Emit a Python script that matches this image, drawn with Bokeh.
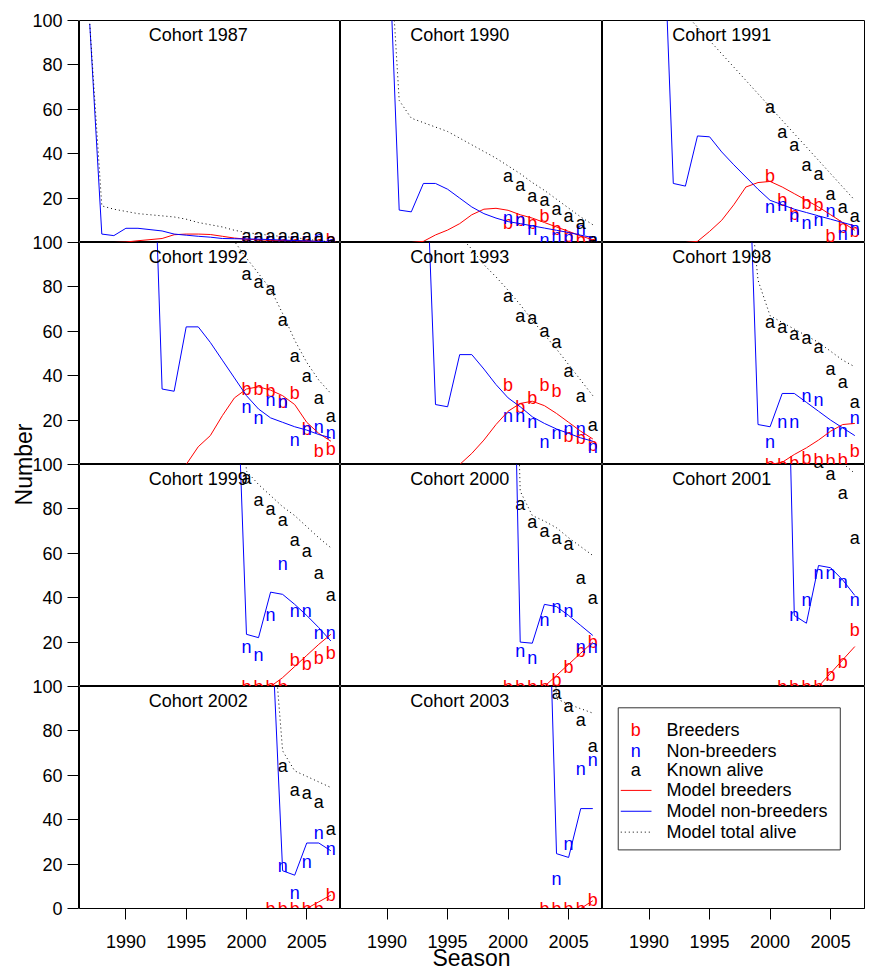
import math
from bokeh.plotting import figure
from bokeh.layouts import gridplot, row
from bokeh.models import Range1d, FixedTicker, Label, BoxAnnotation
from bokeh.core.properties import value
from bokeh.embed import file_html
from bokeh.resources import INLINE

FONT = "Liberation Sans"

# ---------------- data ----------------
season_ticks = [1990, 1995, 2000, 2005]
number_ticks = [0, 20, 40, 60, 80, 100]
obs_years = [2000, 2001, 2002, 2003, 2004, 2005, 2006, 2007]
cohorts = [1987, 1990, 1991, 1992, 1993, 1998, 1999, 2000, 2001, 2002, 2003]

# model series: one value per season from the cohort year to 2007
mb_1987 = [0, 0, 0, 0.2, 0.8, 1.3, 1.8, 3.5, 3.8, 3.8, 3.6, 2.8, 2.0, 1.5, 1.2, 1.0, 0.9, 0.8, 0.6, 0.5, 0.3]
mn_1987 = [98.5, 3.8, 3.1, 6.4, 6.4, 5.8, 5.2, 3.8, 3.3, 2.8, 2.4, 1.8, 1.7, 1.6, 1.5, 1.3, 1.1, 0.9, 0.7, 0.5, 0.3]
mt_1987 = [98.5, 16.5, 15, 14, 13, 12.5, 12, 11.5, 10.5, 9, 8, 7, 5.5, 4.5, 3.8, 3.2, 2.7, 2.2, 1.5, 0.8, 0.3]

mb_1990 = [0, 0, 0, 0.5, 3.4, 5.6, 8.5, 12.5, 15, 15.4, 14.5, 12.5, 11, 9, 7, 5, 3, 1.2]
mn_1990 = [157, 14.6, 13.8, 26.6, 26.6, 24, 20, 16, 13, 11, 9.4, 8.5, 7.5, 6.5, 5.5, 4.5, 3.3, 2.2]
mt_1990 = [154, 64, 56, 54, 52, 50, 47, 44, 41, 38, 34.5, 31, 27, 23.5, 19.5, 15.5, 11.5, 8]

mb_1991 = [0, 0, 0, 0.5, 5, 10, 17, 25, 27, 27.5, 25, 22, 19, 16, 12.5, 9, 5.5]
mn_1991 = [173, 26.6, 25.4, 48, 47.6, 40.8, 35, 29.5, 24, 19, 17, 15, 13.5, 12, 10.5, 9, 7.5]
mt_1991 = [173, 110, 103, 97, 91, 85, 79, 73, 67, 61, 55, 49, 43, 37, 31, 25, 19]

mb_1992 = [0, 0, 0, 0, 8, 13, 22, 30, 34, 35, 33.5, 31, 27, 19, 14, 10.5]
mn_1992 = [200, 34, 33, 62, 62, 55, 47, 39, 31, 25, 21, 19, 17, 15.5, 13.5, 12]
mt_1992 = [200, 125, 120, 115, 111, 107, 103.5, 100.5, 93, 86, 79, 68, 56, 46, 38, 32]

mb_1993 = [0, 0, 0, 0, 5, 11, 18, 24, 27.5, 28.5, 26.5, 23, 19, 15, 11.5]
mn_1993 = [173, 27, 26, 49.5, 49.5, 43, 36, 30, 26, 21.5, 18.5, 16, 14, 12, 10.5]
mt_1993 = [173, 130, 115, 103, 97, 90, 84.5, 78.5, 72, 65, 58.5, 52, 45, 38, 31]

mb_1998 = [0, 0, 0, 1, 4.5, 7.5, 11, 15, 18, 18.5]
mn_1998 = [182, 18, 17, 32, 32, 28, 24, 20, 16.5, 13]
mt_1998 = [140, 83, 67, 64, 61, 58, 55, 51, 47, 44]

mb_1999 = [0, 0, 0, 0, 4, 9, 14, 19, 23.5]
mn_1999 = [176, 23.5, 22, 42.5, 41.5, 37, 32, 26.5, 20.5]
mt_1999 = [176, 97, 91, 86, 81, 77, 72, 67, 62.5]

mb_2000 = [0, 0, 0, 0, 5, 10, 15, 20]
mn_2000 = [287, 20, 19.5, 37, 36, 32, 27.5, 23]
mt_2000 = [287, 88, 77, 74.5, 71.5, 67, 63, 59]

mb_2001 = [0, 0, 0, 0, 6, 12, 18]
mn_2001 = [259, 32, 28.5, 54.5, 53.5, 48, 41]
mt_2001 = [259, 135, 120, 112, 106, 100.5, 96]

mb_2002 = [0, 0, 0, 0, 3, 6]
mn_2002 = [139, 17, 15, 29.5, 29.5, 26]
mt_2002 = [139, 71, 62, 59.5, 57, 54.5]

mb_2003 = [0, 0, 0, 0, 3.5]
mn_2003 = [213, 24.7, 23, 45, 45]
mt_2003 = [213, 94.5, 92, 90, 88]

# observed counts 2000-2007 (b = breeders, n = non-breeders, a = known alive)
ob_1987 = [0, 0, 0, 0, 0, 0, 0, 1]
on_1987 = [1, 1, 1, 1, 1, 1, 2, 0]
oa_1987 = [3, 3, 3, 3, 3, 3, 3, 1]

ob_1990 = [9, 10, 9, 12, 6, 3, 1, 0]
on_1990 = [11, 10, 6, 1, 3, 2, 6, 1]
oa_1990 = [30, 26, 21, 19, 15, 12, 9, 1]

ob_1991 = [30, 19, 13, 18, 17, 3, 7, 5]
on_1991 = [16, 17, 12, 9, 10, 14, 4, 6]
oa_1991 = [61, 50, 44, 35, 31, 22, 16, 12]

ob_1992 = [34, 34, 33, 28, 32, 16, 6, 7]
on_1992 = [26, 21, 29, 28, 11, 16, 17, 14]
oa_1992 = [86, 82, 79, 65, 49, 40, 30, 22]

ob_1993 = [36, 26, 30, 36, 33, 13, 12, 9]
on_1993 = [22, 22, 19, 10, 14, 16, 16, 8]
oa_1993 = [76, 67, 66, 60, 55, 42, 31, 18]

ob_1998 = [0, 0, 0.5, 3, 2, 1.5, 2, 6]
on_1998 = [10, 19, 19, 31, 29, 15, 15, 21]
oa_1998 = [64, 62, 59, 57, 53, 43, 37, 28]

ob_1999 = [0, 0, 0, 0, 12, 10, 13, 15]
on_1999 = [18, 14, 32, 55, 34, 34, 24, 24]
oa_1999 = [94, 84, 80, 75, 66, 61, 51, 41]

ob_2000 = [0, 0, 0, 0, 3, 9, 16, 20]
on_2000 = [None, 16, 13, 30, 36, 34, 18, 18]
oa_2000 = [None, 82, 74, 70, 67, 64, 49, 40]

ob_2001 = [None, 0, 0, 0, 0, 5, 11, 25.5]
on_2001 = [None, None, 32, 39, 51, 51, 47, 39]
oa_2001 = [None, None, None, None, 101, 95.5, 87, 67]

ob_2002 = [None, None, 0, 0, 0, 0, 0, 6]
on_2002 = [None, None, None, 19, 7, 21, 34, 27]
oa_2002 = [None, None, None, 64, 53.5, 52, 48, 36]

ob_2003 = [None, None, None, 0, 0, 0, 0, 4]
on_2003 = [None, None, None, None, 13.5, 29, 63, 67]
oa_2003 = [None, None, None, None, 97, 91, 85, 73]

model_breeders = [mb_1987, mb_1990, mb_1991, mb_1992, mb_1993, mb_1998, mb_1999, mb_2000, mb_2001, mb_2002, mb_2003]
model_nonbreeders = [mn_1987, mn_1990, mn_1991, mn_1992, mn_1993, mn_1998, mn_1999, mn_2000, mn_2001, mn_2002, mn_2003]
model_total = [mt_1987, mt_1990, mt_1991, mt_1992, mt_1993, mt_1998, mt_1999, mt_2000, mt_2001, mt_2002, mt_2003]
obs_breeders = [ob_1987, ob_1990, ob_1991, ob_1992, ob_1993, ob_1998, ob_1999, ob_2000, ob_2001, ob_2002, ob_2003]
obs_nonbreeders = [on_1987, on_1990, on_1991, on_1992, on_1993, on_1998, on_1999, on_2000, on_2001, on_2002, on_2003]
obs_alive = [oa_1987, oa_1990, oa_1991, oa_1992, oa_1993, oa_1998, oa_1999, oa_2000, oa_2001, oa_2002, oa_2003]

legend_symbols = ["b", "n", "a"]
legend_labels = ["Breeders", "Non-breeders", "Known alive",
                 "Model breeders", "Model non-breeders", "Model total alive"]

# ---------------- layout constants ----------------
X_RANGE = (1986.15, 2007.8)
COL_W = [261, 262, 262]
ROW_H = 222
TOP = 20
BOTTOM = 66
RIGHT = 8
AXIS_W = 78
TXT = "18px"


def nanify(v):
    return [float("nan") if x is None else x for x in v]


def panel(r, c):
    last_row = (r == 3)
    p = figure(frame_width=COL_W[c], frame_height=ROW_H,
               x_range=Range1d(*X_RANGE), y_range=Range1d(0, 100),
               x_axis_location="below" if last_row else None,
               y_axis_location=None,
               output_backend="svg", toolbar_location=None, tools="",
               min_border_left=0, min_border_right=RIGHT if c == 2 else 0,
               min_border_top=TOP if r == 0 else 0,
               min_border_bottom=BOTTOM if last_row else 0,
               outline_line_color="black", outline_line_width=1, outline_line_alpha=1,
               background_fill_color="white", border_fill_color="white")
    p.grid.visible = False
    if last_row:
        ax = p.xaxis[0]
        ax.ticker = FixedTicker(ticks=season_ticks)
        ax.major_tick_out = 11
        ax.major_tick_in = 0
        ax.minor_tick_out = 0
        ax.minor_tick_in = 0
        ax.major_label_standoff = 15
        ax.major_label_text_font = FONT
        ax.major_label_text_font_size = TXT
        ax.major_label_text_color = "black"
        ax.axis_line_color = "black"
        ax.major_tick_line_color = "black"
        if c == 1:
            ax.axis_label = "Season"
            ax.axis_label_text_font = FONT
            ax.axis_label_text_font_size = "23px"
            ax.axis_label_text_font_style = "normal"
            ax.axis_label_text_color = "black"
            ax.axis_label_standoff = -6
    return p


def letters(p, vals, ch, color):
    p.text(x=obs_years, y=nanify(vals), text=[ch] * len(obs_years),
           text_color=color, text_font=value(FONT), text_font_size=TXT,
           text_align="center", text_baseline="middle")


panels = []
for i in range(12):
    r, c = divmod(i, 3)
    p = panel(r, c)
    if i < len(cohorts):
        cy = cohorts[i]
        yrs = list(range(cy, 2008))
        letters(p, obs_breeders[i], "b", "red")
        letters(p, obs_nonbreeders[i], "n", "blue")
        letters(p, obs_alive[i], "a", "black")
        p.line(yrs, model_breeders[i], line_color="red", line_width=1)
        p.line(yrs, model_nonbreeders[i], line_color="blue", line_width=1)
        p.line(yrs, model_total[i], line_color="black", line_width=1, line_dash="1 3")
        p.add_layout(Label(x=1996, y=93.5, text=f"Cohort {cy}", text_align="center",
                           text_baseline="middle", text_font=FONT, text_font_size=TXT,
                           text_color="black"))
    else:
        # legend panel
        p.add_layout(BoxAnnotation(left=1987.45, right=2005.8, bottom=26.4, top=90.4,
                                   fill_color="white", fill_alpha=1, line_color="#333333",
                                   line_width=1, line_alpha=1, level="underlay"))
        rows_y = [80.2, 70.9, 62.2, 53.2, 43.8, 34.4]
        sym_colors = ["red", "blue", "black"]
        for k, ch in enumerate(legend_symbols):
            p.add_layout(Label(x=1988.9, y=rows_y[k], text=ch, text_align="center",
                               text_baseline="middle", text_font=FONT, text_font_size=TXT,
                               text_color=sym_colors[k]))
        p.segment(x0=[1987.66], y0=[rows_y[3]], x1=[1990.2], y1=[rows_y[3]], line_color="red", line_width=1)
        p.segment(x0=[1987.66], y0=[rows_y[4]], x1=[1990.2], y1=[rows_y[4]], line_color="blue", line_width=1)
        p.segment(x0=[1987.66], y0=[rows_y[5]], x1=[1990.2], y1=[rows_y[5]], line_color="black",
                  line_width=1, line_dash="1 3")
        for k, lab in enumerate(legend_labels):
            p.add_layout(Label(x=1991.44, y=rows_y[k], text=lab, text_align="left",
                               text_baseline="middle", text_font=FONT, text_font_size=TXT,
                               text_color="black"))
    panels.append(p)

grid = gridplot([panels[0:3], panels[3:6], panels[6:9], panels[9:12]], toolbar_location=None)

# shared y axis for the four stacked rows (each row spans 0..100)
stack_ticks = [0] + [k * 100 + t for k in range(4) for t in number_ticks[1:]]
overrides = {tk: ("0" if tk == 0 else str(tk % 100 or 100)) for tk in stack_ticks}

axf = figure(frame_width=1, frame_height=4 * ROW_H,
             x_range=Range1d(0, 1), y_range=Range1d(0, 400),
             x_axis_location=None, y_axis_location="left",
             output_backend="svg", toolbar_location=None, tools="",
             min_border_left=AXIS_W, min_border_right=0,
             min_border_top=TOP, min_border_bottom=BOTTOM,
             outline_line_color=None)
axf.grid.visible = False
yax = axf.yaxis[0]
yax.ticker = FixedTicker(ticks=stack_ticks)
yax.major_label_overrides = overrides
yax.major_tick_out = 11
yax.major_tick_in = 0
yax.major_label_standoff = 5
yax.major_label_text_font = FONT
yax.major_label_text_font_size = TXT
yax.major_label_text_color = "black"
yax.axis_line_color = "black"
yax.major_tick_line_color = "black"
yax.axis_label = "Number"
yax.axis_label_text_font = FONT
yax.axis_label_text_font_size = "23px"
yax.axis_label_text_font_style = "normal"
yax.axis_label_text_color = "black"
yax.axis_label_standoff = -8

layout = row(axf, grid)

open("out.html", "w").write(file_html(layout, INLINE))
